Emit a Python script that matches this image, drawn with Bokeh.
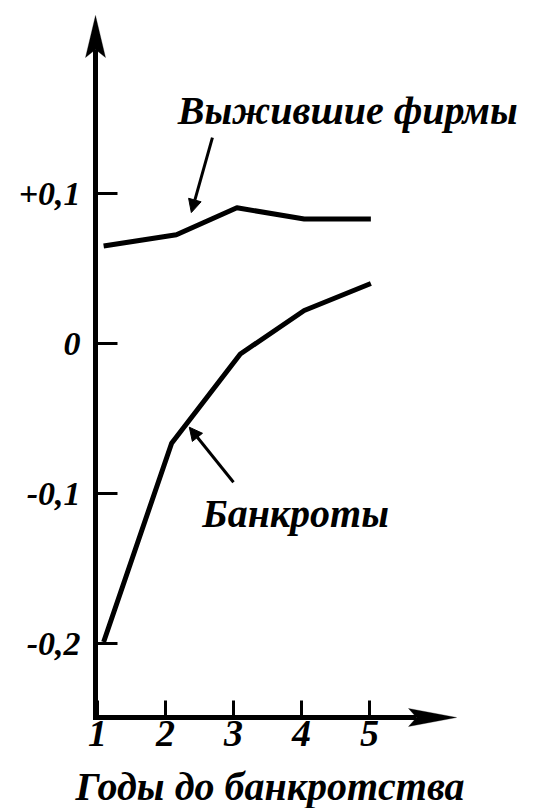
from bokeh.plotting import figure
from bokeh.models import Range1d, FixedTicker, Arrow, NormalHead, PolyAnnotation, Label
from bokeh.embed import file_html
from bokeh.resources import INLINE

# ---- data ----
year_ticks = [1, 2, 3, 4, 5]
year_labels = ["1", "2", "3", "4", "5"]
y_ticks = [-0.2, -0.1, 0.0, 0.1]
y_tick_labels = ["-0,2", "-0,1", "0", "+0,1"]

survivors_x = [1.09, 2.16, 3.05, 4.04, 5.02]
survivors_y = [0.065, 0.0725, 0.0905, 0.083, 0.083]

bankrupt_x = [1.09, 2.09, 3.10, 4.04, 5.02]
bankrupt_y = [-0.199, -0.0665, -0.007, 0.022, 0.040]

label_survivors = "Выжившие фирмы"
label_bankrupt = "Банкроты"
x_title = "Годы до банкротства"

# ---- geometry helpers ----
W, H = 536, 808
PX_X = 68.0     # pixels per year
PX_Y = 1500.0   # pixels per unit of y
X_AT_LEFT = 1 - 97 / PX_X          # value at canvas left edge
Y_AT_TOP = 343 / PX_Y              # value at canvas top edge
X0 = 1 - 2 / PX_X                  # vertical axis position
Y0 = -0.24933                      # horizontal axis position
Y_TIP = Y_AT_TOP - 15 / PX_Y
X_TIP = 6.28

FONT = "Liberation Serif"

p = figure(width=W, height=H,
           x_range=Range1d(X_AT_LEFT, X_AT_LEFT + W / PX_X),
           y_range=Range1d(Y_AT_TOP - H / PX_Y, Y_AT_TOP),
           output_backend="svg", toolbar_location=None,
           min_border_left=0, min_border_right=0,
           min_border_top=0, min_border_bottom=0)
p.outline_line_color = None
p.grid.visible = False
p.background_fill_color = "white"
p.border_fill_color = "white"

# y axis
ya = p.yaxis[0]
ya.fixed_location = X0
ya.ticker = FixedTicker(ticks=y_ticks)
ya.major_label_overrides = {t: l for t, l in zip(y_ticks, y_tick_labels)}
ya.axis_line_color = None
ya.major_tick_in = 22
ya.major_tick_out = 0
ya.major_tick_line_width = 3
ya.major_tick_line_color = "black"
ya.minor_tick_line_color = None
ya.major_label_standoff = 15
ya.major_label_text_font = FONT
ya.major_label_text_font_style = "bold italic"
ya.major_label_text_font_size = "34px"
ya.major_label_text_color = "black"

# x axis
xa = p.xaxis[0]
xa.fixed_location = Y0
xa.ticker = FixedTicker(ticks=year_ticks)
xa.major_label_overrides = {t: l for t, l in zip(year_ticks, year_labels)}
xa.axis_line_color = None
xa.major_tick_in = 17
xa.major_tick_out = 0
xa.major_tick_line_width = 3
xa.major_tick_line_color = "black"
xa.minor_tick_line_color = None
xa.major_label_standoff = 4
xa.major_label_text_font = FONT
xa.major_label_text_font_style = "bold italic"
xa.major_label_text_font_size = "38px"
xa.major_label_text_color = "black"

# axis lines with arrow heads
p.add_layout(Arrow(end=None, x_start=X0, y_start=Y0 - 2.5 / PX_Y,
                   x_end=X0, y_end=Y_TIP - 34 / PX_Y,
                   line_width=5, line_color="black"))
p.add_layout(Arrow(end=None, x_start=X0 - 2.5 / PX_X, y_start=Y0,
                   x_end=X_TIP - 40 / PX_X, y_end=Y0,
                   line_width=5, line_color="black"))
p.add_layout(PolyAnnotation(
    xs=[X0, X0 - 10 / PX_X, X0, X0 + 10 / PX_X],
    ys=[Y_TIP, Y_TIP - 42 / PX_Y, Y_TIP - 34 / PX_Y, Y_TIP - 42 / PX_Y],
    fill_color="black", fill_alpha=1.0, line_color="black", line_width=1))
p.add_layout(PolyAnnotation(
    xs=[X_TIP, X_TIP - 48 / PX_X, X_TIP - 40 / PX_X, X_TIP - 48 / PX_X],
    ys=[Y0, Y0 + 9 / PX_Y, Y0, Y0 - 9 / PX_Y],
    fill_color="black", fill_alpha=1.0, line_color="black", line_width=1))

# series
p.line(survivors_x, survivors_y, line_width=5, line_color="black", line_join="round")
p.line(bankrupt_x, bankrupt_y, line_width=5, line_color="black", line_join="round")

# pointer arrows
p.add_layout(Arrow(end=NormalHead(size=13, fill_color="black", line_color="black"),
                   x_start=2.69, y_start=0.1373, x_end=2.38, y_end=0.0873,
                   line_width=3, line_color="black"))
p.add_layout(Arrow(end=NormalHead(size=13, fill_color="black", line_color="black"),
                   x_start=3.00, y_start=-0.0925, x_end=2.35, y_end=-0.0558,
                   line_width=3, line_color="black"))

# labels
p.add_layout(Label(x=2.18, y=0.1473 + 12 / PX_Y, text=label_survivors, text_font=FONT,
                   text_font_style="bold italic", text_font_size="40px",
                   text_baseline="alphabetic", text_color="black"))
p.add_layout(Label(x=2.54, y=-0.1213 + 12 / PX_Y, text=label_bankrupt, text_font=FONT,
                   text_font_style="bold italic", text_font_size="40px",
                   text_baseline="alphabetic", text_color="black"))
p.add_layout(Label(x=0.676, y=-0.3033 + 12 / PX_Y, text=x_title, text_font=FONT,
                   text_font_style="bold italic", text_font_size="40px",
                   text_baseline="alphabetic", text_color="black"))

open("out.html", "w").write(file_html(p, INLINE))
